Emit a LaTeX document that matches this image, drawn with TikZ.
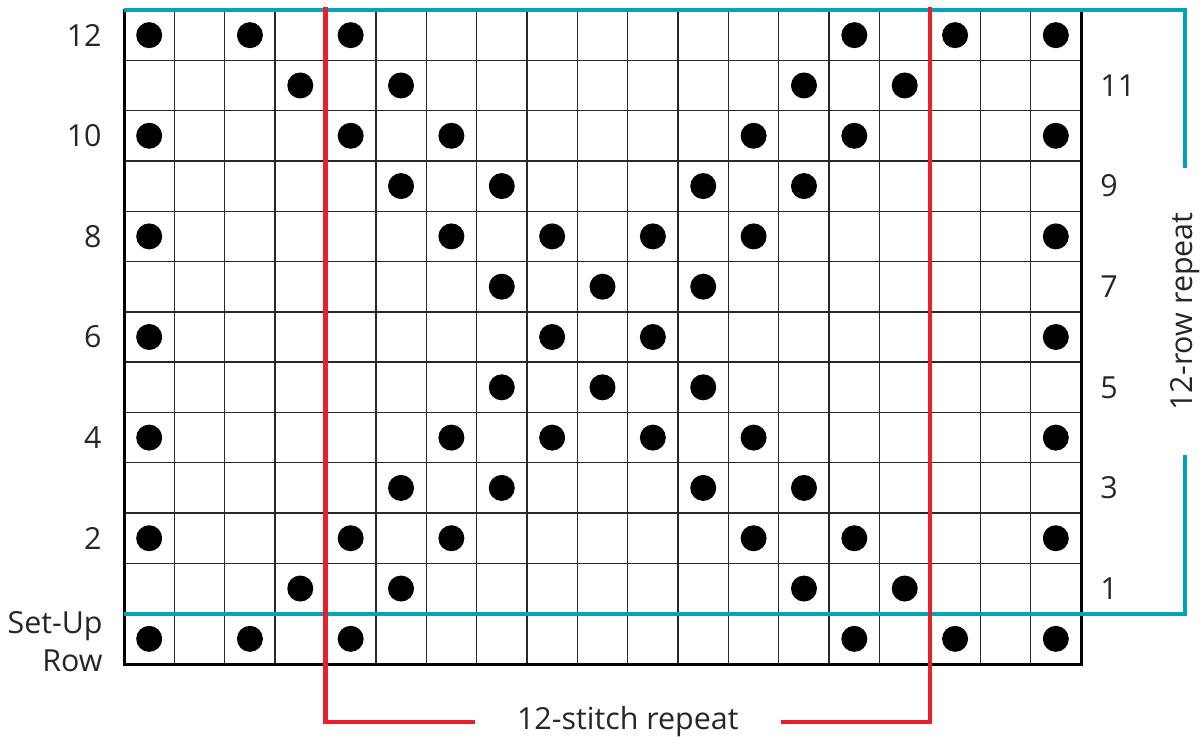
\documentclass[tikz,border=0pt]{standalone}
\usepackage{fontspec}
\setmainfont{Open Sans}
\definecolor{stitchred}{RGB}{232,32,44}
\definecolor{rowblue}{RGB}{0,162,188}
\definecolor{gridgray}{RGB}{40,40,40}
\begin{document}
\begin{tikzpicture}[x=0.5pt,y=-0.5pt,
  gridline/.style={draw=gridgray,line width=0.7pt},
  border/.style={draw=black,line width=1.5pt},
  dot/.style={circle,fill=black,inner sep=0pt,minimum size=13pt},
  lab/.style={font=\fontsize{15.2}{18}\selectfont,inner sep=0pt,text=black!85},
  redline/.style={draw=stitchred,line width=2.1pt},
  blueline/.style={draw=rowblue,line width=2.1pt}]
\useasboundingbox (0,0) rectangle (1204,744);
\def\cw{50.368}
\def\ch{50.308}
% grid
\foreach \i in {1,...,18} \draw[gridline] ({124+\i*\cw},10) -- ({124+\i*\cw},664);
\foreach \j in {1,...,12} \draw[gridline] (124,{10+\j*\ch}) -- (1081,{10+\j*\ch});
\draw[border] (124,10) rectangle (1081,664);
% dots
\foreach \r/\cs in {0/{1,3,5,15,17,19},1/{4,6,14,16},2/{1,5,7,13,15,19},3/{6,8,12,14},
  4/{1,7,9,11,13,19},5/{8,10,12},6/{1,9,11,19},7/{8,10,12},8/{1,7,9,11,13,19},
  9/{6,8,12,14},10/{1,5,7,13,15,19},11/{4,6,14,16},12/{1,3,5,15,17,19}}{
  \foreach \c in \cs {
    \node[dot] (d-\r-\c) at ({124+(\c-0.5)*\cw},{10+(\r+0.5)*\ch}) {};
  }
}
% row labels
\foreach \r/\t in {0/12,2/10,4/8,6/6,8/4,10/2}
  \node[lab,anchor=east] (l-\r) at (102,{10+(\r+0.5)*\ch}) {\t};
\foreach \r/\t in {1/11,3/9,5/7,7/5,9/3,11/1}
  \node[lab,anchor=west] (l-\r) at (1100,{10+(\r+0.5)*\ch}) {\t};
\node[lab,anchor=base east] (setup1) at (103,633) {Set-Up};
\node[lab,anchor=base east] (setup2) at (103,671) {Row};
% 12-row repeat
\coordinate (ba) at (124,10);
\coordinate (bb) at (1185,10);
\coordinate (bc) at (124,614);
\coordinate (bd) at (1185,614);
\node[lab,rotate=90,minimum width=143.5pt] (rrep) at (1185,311.5) {12-row repeat};
\draw[blueline] (ba) -- (bb) -- (rrep.east);
\draw[blueline] (bc) -- (bd) -- (rrep.west);
% 12-stitch repeat
\coordinate (ra) at ({124+4*\cw},7);
\coordinate (rb) at ({124+4*\cw},722);
\coordinate (rc) at ({124+16*\cw},7);
\coordinate (rd) at ({124+16*\cw},722);
\node[lab,minimum width=152.5pt] (srep) at (627.8,722) {12-stitch repeat};
\draw[redline] (ra) -- (rb) -- (srep.west);
\draw[redline] (rc) -- (rd) -- (srep.east);
\end{tikzpicture}
\end{document}
